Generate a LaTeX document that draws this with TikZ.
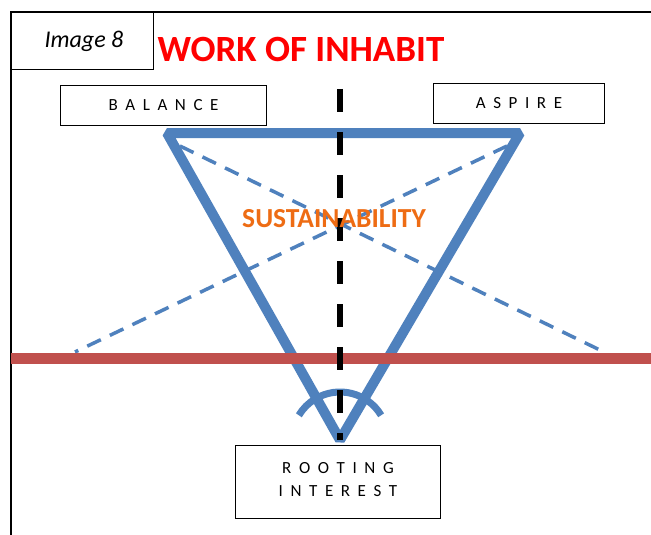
\documentclass[tikz,border=0pt]{standalone}
\usepackage{fontspec}
\setmainfont{Carlito}
\definecolor{tblue}{HTML}{4F81BD}
\definecolor{tred}{HTML}{C0504D}
\definecolor{torange}{RGB}{238,108,20}
\newfontfamily\spaced[LetterSpace=22]{Carlito}
\begin{document}
\begin{tikzpicture}[x=1pt,y=-1pt,
  labelbox/.style={draw=black,line width=1pt,inner sep=0pt,anchor=north west},
  spacedtext/.style={font=\spaced\fontsize{17}{23}\selectfont,align=center},
  triedge/.style={draw=tblue,line width=10pt},
  diag/.style={draw=tblue,line width=3.5pt,dash pattern=on 15pt off 10pt},
  axis/.style={draw=black,line width=6pt,dash pattern=on 23pt off 20pt}]
\useasboundingbox (0,0) rectangle (651,535);
\fill[white] (0,0) rectangle (651,535);
% frame
\coordinate (fl) at (11,535);
\coordinate (ftl) at (11,12);
\coordinate (ftr) at (651,12);
\draw[line width=1.2pt] (fl) -- (ftl) -- (ftr);
% image label
\node[labelbox,minimum width=142pt,minimum height=57pt,fill=white] (img) at (11,12) {};
\node[font=\itshape\fontsize{24}{28}\selectfont] (imgt) at (84,41) {Image 8};
\node[font=\bfseries\fontsize{37}{42}\selectfont,text=red,anchor=west] (title) at (154,49) {WORK OF INHABIT};
% triangle
\coordinate (tl) at (167,133);
\coordinate (tr) at (520,133);
\coordinate (bt) at (340,440);
\coordinate (dl) at (75,352);
\coordinate (dr) at (604,352);
\coordinate (d1) at (180,146);
\coordinate (d2) at (507,146);
\draw[diag] (d1) -- (dr);
\draw[diag] (d2) -- (dl);
\draw[triedge,line join=bevel] (bt) -- (tl) -- (tr) -- cycle;
% red line
\coordinate (rl) at (11,358);
\coordinate (rr) at (651,358);
\draw[tred,line width=11pt] (rl) -- (rr);
% arc
\draw[tblue,line width=7pt] ([shift={(-31:48)}]bt) arc (-31:-149:48);
% axis
\coordinate (at) at (340,89);
\coordinate (ab) at (340,440);
\draw[axis] (at) -- (ab);
% label
\node[font=\bfseries\fontsize{27.5}{32}\selectfont,text=torange] (sus) at (334,219) {SUSTAINABILITY};
% boxes
\node[labelbox,minimum width=206pt,minimum height=40pt] (bal) at (60,85) {};
\node[spacedtext] at (bal.center) {B A L A N C E};
\node[labelbox,minimum width=171pt,minimum height=40pt] (asp) at (433,83) {};
\node[spacedtext] at (asp.center) {A S P I R E};
\node[labelbox,minimum width=205pt,minimum height=73pt,fill=white] (root) at (235,445) {};
\node[spacedtext] at ([yshift=2pt]root.center) {R O O T I N G\\I N T E R E S T};
\end{tikzpicture}
\end{document}
